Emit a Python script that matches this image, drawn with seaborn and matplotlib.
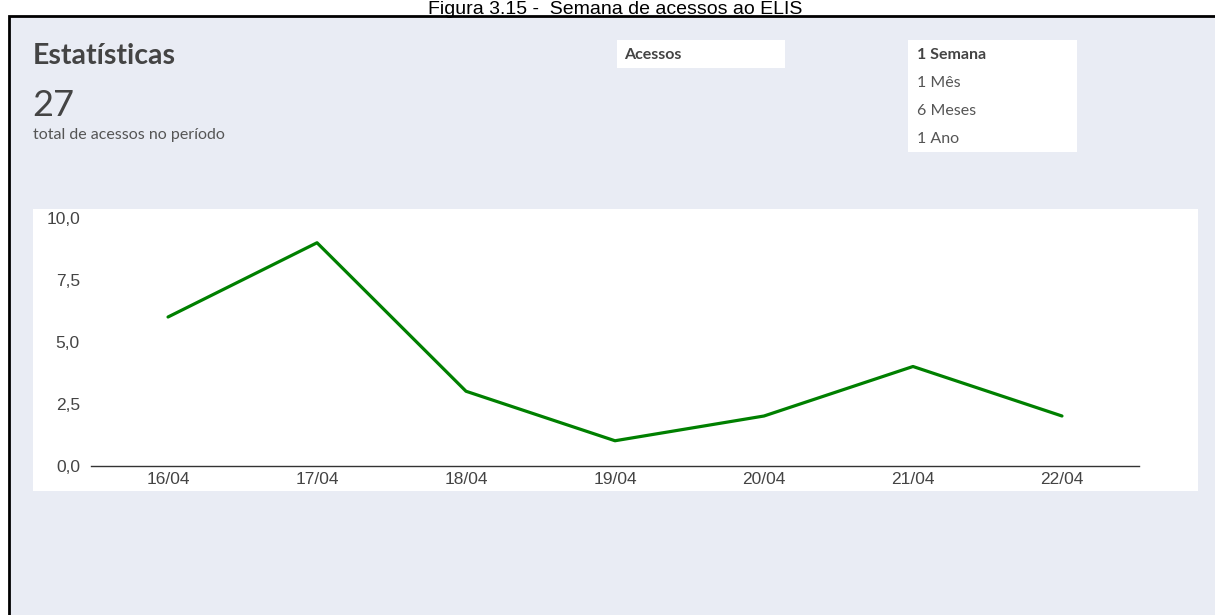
import matplotlib
matplotlib.use("Agg")
import matplotlib.pyplot as plt
from matplotlib.patches import Rectangle
import seaborn as sns
import pandas as pd

# ---- data ----
dias = ["16/04", "17/04", "18/04", "19/04", "20/04", "21/04", "22/04"]
acessos = [6, 9, 3, 1, 2, 4, 2]
y_ticks = [0, 2.5, 5, 7.5, 10]
y_tick_labels = ["0,0", "2,5", "5,0", "7,5", "10,0"]
periodos = ["1 Semana", "1 Mês", "6 Meses", "1 Ano"]
titulo_figura = "Figura 3.15 -  Semana de acessos ao ELIS"
total = 27

W, H = 1215, 615
sns.set_theme(style="white")
plt.rcParams["font.family"] = ["Liberation Sans", "DejaVu Sans"]

fig = plt.figure(figsize=(W / 100, H / 100), dpi=100)
fig.patch.set_facecolor("white")


def fx(px):
    return px / W


def fy(py):
    return 1 - py / H


def rect(x0, y0, x1, y1, **kw):
    fig.patches.append(Rectangle((fx(x0), fy(y1)), fx(x1) - fx(x0), fy(y0) - fy(y1),
                                 transform=fig.transFigure, figure=fig, zorder=-5, **kw))


# panel with black border (extends beyond right/bottom)
rect(9, 16, 1230, 630, facecolor="#E9ECF4", edgecolor="black", linewidth=2.0)
# white chart area
rect(33, 209, 1198, 491, facecolor="white", edgecolor="none")
# Acessos box
rect(617, 40, 785, 68, facecolor="white", edgecolor="none")
# period box
rect(908, 40, 1077, 152, facecolor="white", edgecolor="none")

# figure caption
fig.text(fx(615), fy(14), titulo_figura, ha="center", va="baseline",
         fontsize=14, color="black", family=["Liberation Sans"])

ui = ["Lato", "DejaVu Sans"]
fig.text(fx(33), fy(64), "Estatísticas", ha="left", va="baseline",
         fontsize=20.5, fontweight="bold", color="#444444", family=ui)
fig.text(fx(32), fy(116), str(total), ha="left", va="baseline",
         fontsize=26, fontweight="normal", color="#444444", family=ui)
fig.text(fx(33), fy(139), "total de acessos no período", ha="left", va="baseline",
         fontsize=11.5, color="#555555", family=ui)
fig.text(fx(624), fy(59), "Acessos", ha="left", va="baseline",
         fontsize=11.5, fontweight="bold", color="#444444", family=ui)
for i, p in enumerate(periodos):
    fig.text(fx(917), fy(59 + 28 * i), p, ha="left", va="baseline",
             fontsize=11.5, fontweight="bold" if i == 0 else "normal",
             color="#444444" if i == 0 else "#555555", family=ui)

# chart axes
ax = fig.add_axes([fx(91), fy(465.5), fx(1139) - fx(91), fy(218) - fy(465.5)])
ax.set_zorder(5)
ax.set_facecolor("none")
df = pd.DataFrame({"dia": dias, "acessos": acessos})
sns.lineplot(data=df, x="dia", y="acessos", ax=ax, color="#008000",
             linewidth=2.3, sort=False)
ax.set_xlim(-0.517, len(dias) - 1 + 0.517)
ax.set_ylim(0, 10)
ax.set_yticks(y_ticks)
ax.set_yticklabels(y_tick_labels)
ax.set_xlabel("")
ax.set_ylabel("")
for s in ["top", "right", "left"]:
    ax.spines[s].set_visible(False)
ax.spines["bottom"].set_color("#333333")
ax.spines["bottom"].set_linewidth(1.0)
ax.spines["bottom"].set_zorder(0)
ax.tick_params(axis="both", length=0, labelsize=12.5, labelcolor="#444444")
ax.tick_params(axis="y", pad=8)
ax.tick_params(axis="x", pad=5)
ax.grid(False)

fig.savefig("out.png", dpi=100)
